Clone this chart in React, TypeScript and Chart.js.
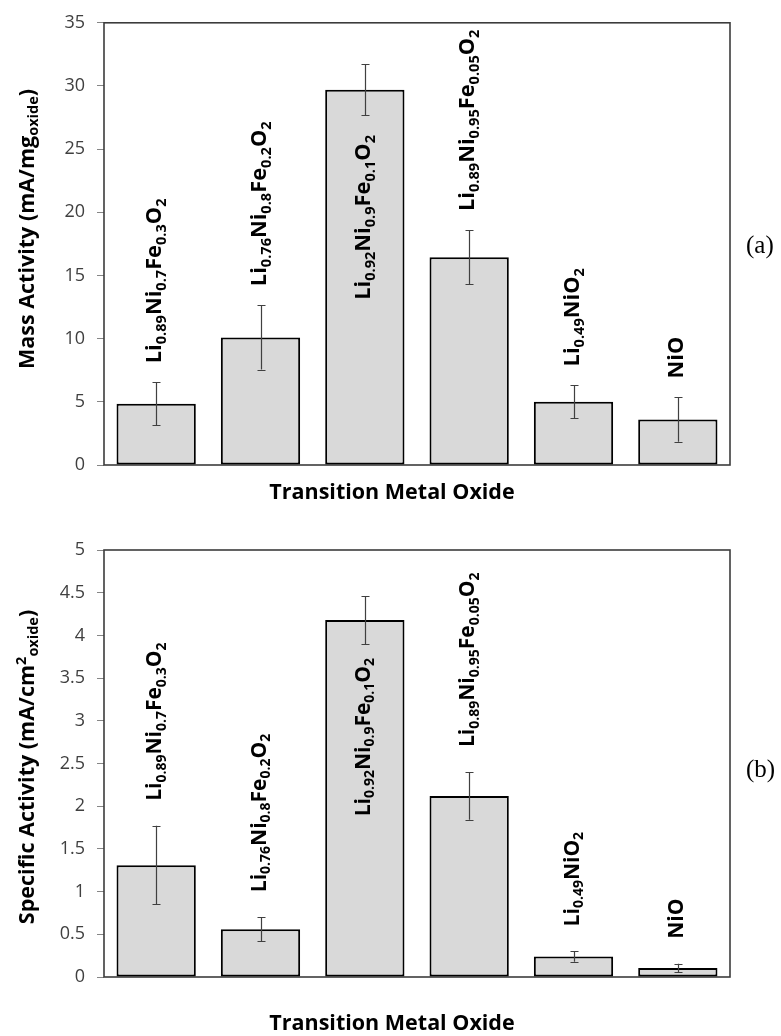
import React, { useEffect, useRef } from 'react';
import { Chart, registerables } from 'chart.js';

Chart.register(...registerables);

// ---------- data ----------
const categories = [
  'Li_{0.89}Ni_{0.7}Fe_{0.3}O_{2}',
  'Li_{0.76}Ni_{0.8}Fe_{0.2}O_{2}',
  'Li_{0.92}Ni_{0.9}Fe_{0.1}O_{2}',
  'Li_{0.89}Ni_{0.95}Fe_{0.05}O_{2}',
  'Li_{0.49}NiO_{2}',
  'NiO',
];
const massValues = [4.85, 10.1, 29.7, 16.45, 5.0, 3.6];
const massErrors = [1.7, 2.55, 2.0, 2.15, 1.3, 1.75];
const specificValues = [1.31, 0.56, 4.18, 2.12, 0.24, 0.105];
const specificErrors = [0.46, 0.14, 0.28, 0.28, 0.06, 0.05];
const massAxis = { min: 0, max: 35, step: 5 };
const specificAxis = { min: 0, max: 5, step: 0.5 };
const massTitle = 'Mass Activity (mA/mg_{oxide})';
const specificTitle = 'Specific Activity (mA/cm^{2}_{oxide})';
const xTitle = 'Transition Metal Oxide';
const panelTags = ['(a)', '(b)'];

const FONT = '"Open Sans", Lato, sans-serif';

type Seg = { t: string; k: 'n' | 'sub' | 'sup' };

function parse(s: string): Seg[] {
  const segs: Seg[] = [];
  let cur = '';
  let i = 0;
  while (i < s.length) {
    if ((s[i] === '_' || s[i] === '^') && s[i + 1] === '{') {
      if (cur) segs.push({ t: cur, k: 'n' });
      cur = '';
      const j = s.indexOf('}', i);
      segs.push({ t: s.slice(i + 2, j), k: s[i] === '_' ? 'sub' : 'sup' });
      i = j + 1;
    } else {
      cur += s[i];
      i++;
    }
  }
  if (cur) segs.push({ t: cur, k: 'n' });
  return segs;
}

function segFont(seg: Seg, size: number, sub: number) {
  return `bold ${seg.k === 'n' ? size : sub}px ${FONT}`;
}

function richWidth(ctx: CanvasRenderingContext2D, segs: Seg[], size: number, sub: number) {
  let w = 0;
  for (const s of segs) {
    ctx.font = segFont(s, size, sub);
    w += ctx.measureText(s.t).width;
  }
  return w;
}

function drawRich(
  ctx: CanvasRenderingContext2D,
  segs: Seg[],
  x: number,
  y: number,
  size: number,
  sub: number,
  color: string
) {
  ctx.fillStyle = color;
  ctx.textBaseline = 'alphabetic';
  ctx.textAlign = 'left';
  for (const s of segs) {
    ctx.font = segFont(s, size, sub);
    const dy = s.k === 'sub' ? size * 0.22 : s.k === 'sup' ? -size * 0.36 : 0;
    ctx.fillText(s.t, x, y + dy);
    x += ctx.measureText(s.t).width;
  }
}

const decorPlugin = {
  id: 'decor',
  beforeDatasetsDraw(chart: any) {
    const { ctx, chartArea } = chart;
    ctx.save();
    ctx.strokeStyle = '#3c3c3c';
    ctx.lineWidth = 1.6;
    ctx.strokeRect(chartArea.left, chartArea.top, chartArea.right - chartArea.left, chartArea.bottom - chartArea.top);
    ctx.restore();
  },
  afterDatasetsDraw(chart: any, _a: any, o: any) {
    const { ctx, chartArea } = chart;
    const meta = chart.getDatasetMeta(0);
    const ys = chart.scales.y;
    const values: number[] = o.values;
    const errors: number[] = o.errors;
    ctx.save();
    // error bars
    ctx.strokeStyle = '#404040';
    ctx.lineWidth = 1.2;
    meta.data.forEach((el: any, i: number) => {
      const yt = ys.getPixelForValue(values[i] + errors[i]);
      const yb = ys.getPixelForValue(values[i] - errors[i]);
      const x = Math.round(el.x) + 0.5;
      ctx.beginPath();
      ctx.moveTo(x, yt);
      ctx.lineTo(x, yb);
      ctx.moveTo(x - 4, Math.round(yt) + 0.5);
      ctx.lineTo(x + 4, Math.round(yt) + 0.5);
      ctx.moveTo(x - 4, Math.round(yb) + 0.5);
      ctx.lineTo(x + 4, Math.round(yb) + 0.5);
      ctx.stroke();
    });
    // formula labels
    meta.data.forEach((el: any, i: number) => {
      const segs = parse(categories[i]);
      const w = richWidth(ctx, segs, o.labelSize, o.labelSub);
      const yt = ys.getPixelForValue(values[i] + errors[i]);
      let start = yt - o.gap;
      if (start - w < chartArea.top + 4) {
        start = ys.getPixelForValue(values[i] - errors[i]) + o.innerGap + w;
      }
      ctx.save();
      ctx.translate(el.x, start);
      ctx.rotate(-Math.PI / 2);
      drawRich(ctx, segs, 0, o.labelSize * 0.24, o.labelSize, o.labelSub, '#000');
      ctx.restore();
    });
    // y title
    const ty = parse(o.yTitle);
    const wy = richWidth(ctx, ty, o.titleSize, o.titleSub);
    ctx.save();
    ctx.translate(o.yTitleX, o.yTitleY + wy / 2);
    ctx.rotate(-Math.PI / 2);
    drawRich(ctx, ty, 0, o.titleSize * 0.36, o.titleSize, o.titleSub, '#000');
    ctx.restore();
    // x title
    const tx = parse(xTitle);
    const wx = richWidth(ctx, tx, o.titleSize, o.titleSub);
    drawRich(ctx, tx, o.xTitleX - wx / 2, o.xTitleY + o.titleSize * 0.36, o.titleSize, o.titleSub, '#000');
    // tag
    ctx.font = `${o.tagSize}px "Liberation Serif", "Times New Roman", serif`;
    ctx.fillStyle = '#000';
    ctx.textAlign = 'left';
    ctx.textBaseline = 'middle';
    ctx.fillText(o.tag, o.tagX, o.tagY);
    ctx.restore();
  },
};

type PanelProps = {
  top: number;
  height: number;
  values: number[];
  errors: number[];
  axis: { min: number; max: number; step: number };
  padTop: number;
  padBottom: number;
  decor: any;
};

function Panel(p: PanelProps) {
  const ref = useRef<HTMLCanvasElement | null>(null);
  useEffect(() => {
    const chart = new Chart(ref.current as HTMLCanvasElement, {
      type: 'bar',
      data: {
        labels: categories,
        datasets: [
          {
            data: p.values,
            backgroundColor: '#d9d9d9',
            borderColor: '#000000',
            borderWidth: 2,
            borderSkipped: false,
            barPercentage: 0.76,
            categoryPercentage: 1,
          },
        ],
      },
      options: {
        responsive: false,
        animation: false,
        devicePixelRatio: 1,
        layout: { padding: { left: 0, right: 51, top: p.padTop, bottom: p.padBottom } },
        plugins: {
          legend: { display: false },
          tooltip: { enabled: false },
          decor: p.decor,
        } as any,
        scales: {
          x: {
            type: 'category',
            offset: true,
            grid: { display: false },
            border: { display: false },
            ticks: { display: false },
            afterFit: (s: any) => {
              s.height = 0;
            },
          },
          y: {
            min: p.axis.min,
            max: p.axis.max,
            grid: {
              drawOnChartArea: false,
              drawTicks: true,
              tickLength: 7,
              color: '#868686',
            },
            border: { display: false },
            ticks: {
              stepSize: p.axis.step,
              padding: 12,
              color: '#404040',
              font: { family: FONT, size: 18 },
              callback: (v: any) => String(Math.round(Number(v) * 100) / 100),
            },
            afterFit: (s: any) => {
              s.width = 104;
            },
          },
        },
      },
      plugins: [decorPlugin],
    } as any);
    return () => chart.destroy();
  }, []);
  return (
    <canvas
      ref={ref}
      width={781}
      height={p.height}
      style={{ position: 'absolute', left: 0, top: p.top, width: 781, height: p.height, display: 'block' }}
    />
  );
}

export default function App() {
  return (
    <div style={{ position: 'absolute', left: 0, top: 0, width: 781, height: 1036, background: '#fff' }}>
      <Panel
        top={0}
        height={505}
        values={massValues}
        errors={massErrors}
        axis={massAxis}
        padTop={18}
        padBottom={40}
        decor={{
          values: massValues,
          errors: massErrors,
          labelSize: 21.8,
          labelSub: 14.6,
          gap: 19,
          innerGap: 20,
          yTitle: massTitle,
          titleSize: 21.5,
          titleSub: 14.5,
          yTitleX: 26,
          yTitleY: 229,
          xTitleX: 392,
          xTitleY: 491,
          tag: panelTags[0],
          tagX: 746,
          tagY: 246,
          tagSize: 25,
        }}
      />
      <Panel
        top={505}
        height={531}
        values={specificValues}
        errors={specificErrors}
        axis={specificAxis}
        padTop={45}
        padBottom={59}
        decor={{
          values: specificValues,
          errors: specificErrors,
          labelSize: 21,
          labelSub: 14,
          gap: 25,
          innerGap: 14,
          yTitle: specificTitle,
          titleSize: 21.5,
          titleSub: 14.5,
          yTitleX: 26,
          yTitleY: 262,
          xTitleX: 392,
          xTitleY: 517,
          tag: panelTags[1],
          tagX: 746,
          tagY: 265,
          tagSize: 25,
        }}
      />
    </div>
  );
}
